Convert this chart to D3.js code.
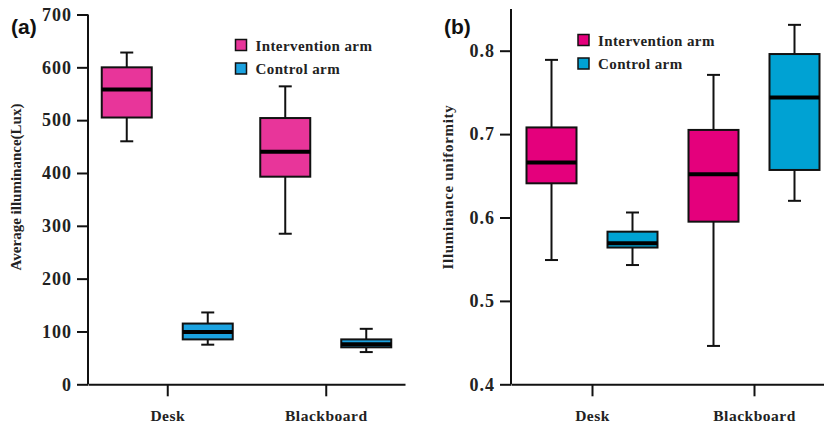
<!DOCTYPE html>
<html>
<head>
<meta charset="utf-8">
<script src="https://cdn.jsdelivr.net/npm/d3@7"></script>
<style>
  body { margin: 0; background: #fff; }
  text { font-family: "Liberation Serif", "Times New Roman", serif; font-weight: bold; }
</style>
</head>
<body>
<script>
// data --------------------------------------------------------------------
var categories = ["Desk", "Blackboard"];
var groups = ["Intervention arm", "Control arm"];

// [min, q1, median, q3, max] per category, per group
var luxIntervention = [[460, 505, 558, 600, 628], [285, 393, 440, 504, 564]];
var luxControl = [[75, 85, 99, 115, 136], [61, 70, 76, 85, 105]];
var luxTicks = [0, 100, 200, 300, 400, 500, 600, 700];

var uniIntervention = [[0.549, 0.641, 0.666, 0.708, 0.789], [0.446, 0.595, 0.652, 0.705, 0.771]];
var uniControl = [[0.543, 0.564, 0.569, 0.583, 0.606], [0.620, 0.657, 0.744, 0.796, 0.831]];
var uniTicks = [0.4, 0.5, 0.6, 0.7, 0.8];

var svgWidth = 824, svgHeight = 423;

var svg = d3.select("body").append("svg")
  .attr("width", svgWidth)
  .attr("height", svgHeight);

// draws one panel
function panel(opt) {
  var g = svg.append("g");

  var x = d3.scalePoint().domain(categories).range(opt.xRange).padding(0.5);
  var y = d3.scaleLinear().domain(opt.yDomain).range(opt.yRange);

  // boxes
  var rows = [];
  categories.forEach(function(c, i) {
    rows.push({cat: c, grp: 0, s: opt.inter[i], color: opt.colors[0]});
    rows.push({cat: c, grp: 1, s: opt.control[i], color: opt.colors[1]});
  });
  var boxW = 50, capW = 13, off = 40.5;

  var bx = g.selectAll(".box").data(rows).enter().append("g")
    .attr("transform", function(d) { return "translate(" + (x(d.cat) + (d.grp ? off : -off)) + ",0)"; });

  bx.append("line") // whisker
    .attr("x1", 0).attr("x2", 0)
    .attr("y1", function(d) { return y(d.s[0]); })
    .attr("y2", function(d) { return y(d.s[4]); })
    .attr("stroke", "#111").attr("stroke-width", 2);
  bx.append("line").attr("x1", -capW / 2).attr("x2", capW / 2)
    .attr("y1", function(d) { return y(d.s[0]); }).attr("y2", function(d) { return y(d.s[0]); })
    .attr("stroke", "#111").attr("stroke-width", 2);
  bx.append("line").attr("x1", -capW / 2).attr("x2", capW / 2)
    .attr("y1", function(d) { return y(d.s[4]); }).attr("y2", function(d) { return y(d.s[4]); })
    .attr("stroke", "#111").attr("stroke-width", 2);
  bx.append("rect")
    .attr("x", -boxW / 2).attr("width", boxW)
    .attr("y", function(d) { return y(d.s[3]); })
    .attr("height", function(d) { return y(d.s[1]) - y(d.s[3]); })
    .attr("fill", function(d) { return d.color; })
    .attr("stroke", "#111").attr("stroke-width", 2);
  bx.append("line").attr("x1", -boxW / 2).attr("x2", boxW / 2)
    .attr("y1", function(d) { return y(d.s[2]); }).attr("y2", function(d) { return y(d.s[2]); })
    .attr("stroke", "#000").attr("stroke-width", 4);

  // axes
  var yAxis = d3.axisLeft(y).tickValues(opt.ticks).tickFormat(opt.fmt).tickSize(11).tickPadding(5).tickSizeOuter(0);
  var ya = g.append("g").attr("transform", "translate(" + opt.xRange[0] + ",0)").call(yAxis);
  ya.select(".domain").attr("stroke", "#111").attr("stroke-width", 2)
    .attr("d", "M0," + opt.yRange[0] + "V" + opt.yRange[1]);
  ya.selectAll(".tick line").attr("stroke", "#111").attr("stroke-width", 2);
  ya.selectAll(".tick text").attr("font-size", "18px").attr("letter-spacing", "1px")
    .attr("fill", "#222");

  var xAxis = d3.axisBottom(x).tickSize(12).tickPadding(14).tickSizeOuter(0);
  var xa = g.append("g").attr("transform", "translate(0," + opt.yRange[0] + ")").call(xAxis);
  xa.select(".domain").attr("stroke", "#111").attr("stroke-width", 2);
  xa.selectAll(".tick line").attr("stroke", "#111").attr("stroke-width", 2);
  xa.selectAll(".tick text").attr("font-size", "15.5px").attr("letter-spacing", "0.5px")
    .attr("fill", "#222");

  // y title
  g.append("text")
    .attr("transform", "translate(" + opt.titleX + "," + 187 + ") rotate(-90)")
    .attr("text-anchor", "middle")
    .attr("font-size", opt.titleSize).attr("letter-spacing", opt.titleSpacing).attr("fill", "#222")
    .text(opt.title);

  // panel tag
  g.append("text").attr("x", opt.tag[0]).attr("y", opt.tag[1])
    .style("font-family", "Liberation Sans, Arial, sans-serif")
    .attr("font-size", "21px").attr("fill", "#111")
    .text(opt.tagText);

  // legend
  var lg = g.selectAll(".leg").data(groups).enter().append("g")
    .attr("transform", function(d, i) { return "translate(" + opt.legend[0] + "," + (opt.legend[1] + i * 23.5) + ")"; });
  lg.append("rect").attr("width", 11).attr("height", 11)
    .attr("fill", function(d, i) { return opt.colors[i]; })
    .attr("stroke", "#111").attr("stroke-width", 1.5);
  lg.append("text").attr("x", 20).attr("y", 11)
    .attr("font-size", "15px").attr("letter-spacing", "0.4px").attr("fill", "#222")
    .text(function(d) { return d; });
}

panel({
  xRange: [88, 405], yDomain: [0, 700], yRange: [384.3, 14.5],
  inter: luxIntervention, control: luxControl, ticks: luxTicks,
  fmt: d3.format("d"), colors: ["#E8359A", "#1BA2E0"],
  title: "Average illuminance(Lux)", titleX: 21, titleSize: "15px", titleSpacing: "0px",
  tag: [11, 34], tagText: "(a)", legend: [235.5, 39.5]
});

panel({
  xRange: [511, 835], yDomain: [0.4, 0.85], yRange: [384.3, 9],
  inter: uniIntervention, control: uniControl, ticks: uniTicks,
  fmt: d3.format(".1f"), colors: ["#E4007C", "#00A2D3"],
  title: "Illuminance uniformity", titleX: 453, titleSize: "15px", titleSpacing: "0.7px",
  tag: [444, 34], tagText: "(b)", legend: [578, 34.5]
});
</script>
</body>
</html>
